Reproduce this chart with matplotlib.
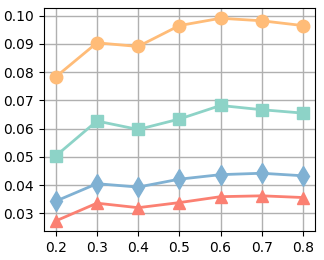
import matplotlib
matplotlib.use("Agg")
import matplotlib.pyplot as plt

x = [0.2, 0.3, 0.4, 0.5, 0.6, 0.7, 0.8]
orange = [0.0783, 0.0904, 0.0891, 0.0965, 0.0991, 0.0982, 0.0965]
teal = [0.0503, 0.0627, 0.0597, 0.0634, 0.0682, 0.0667, 0.0655]
blue = [0.0343, 0.0405, 0.0393, 0.0421, 0.0437, 0.0442, 0.0433]
red = [0.0273, 0.0336, 0.0320, 0.0338, 0.0359, 0.0362, 0.0356]

fig, ax = plt.subplots(figsize=(3.24, 2.6), dpi=100)
fig.subplots_adjust(left=0.135, right=0.972, top=0.97, bottom=0.11)

ax.plot(x, orange, color='#FFBC78', marker='o', markersize=9, linewidth=2)
ax.plot(x, teal, color='#8DD3C7', marker='s', markersize=9, linewidth=2)
ax.plot(x, blue, color='#80B1D3', marker='d', markersize=10, linewidth=2)
ax.plot(x, red, color='#FB8072', marker='^', markersize=9, linewidth=2)

ax.set_xticks(x)
ax.set_yticks([0.03, 0.04, 0.05, 0.06, 0.07, 0.08, 0.09, 0.10])
ax.set_xlim(0.171, 0.829)
ax.set_ylim(0.0236, 0.1028)
ax.grid(True, color='#b0b0b0', linewidth=1)
ax.set_axisbelow(True)
ax.tick_params(labelsize=10)

plt.savefig('out.png', dpi=100)
